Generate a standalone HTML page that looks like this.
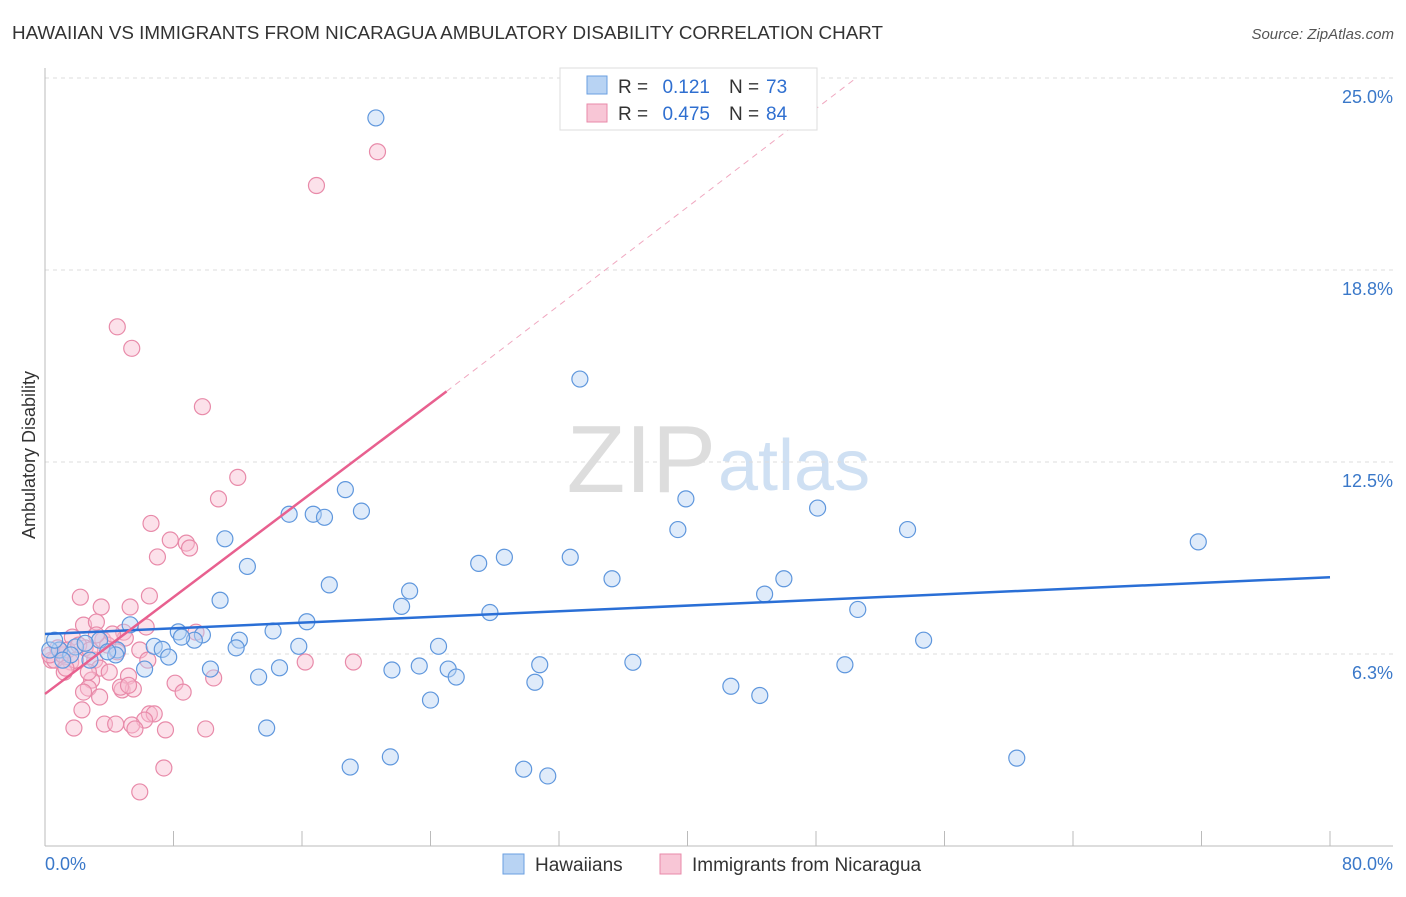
<!DOCTYPE html>
<html><head><meta charset="utf-8"><style>
body{margin:0;background:#fff;font-family:"Liberation Sans",sans-serif;}
svg text{font-family:"Liberation Sans",sans-serif;}
</style></head><body>
<svg width="1406" height="892" viewBox="0 0 1406 892">
<text x="12" y="39" font-size="18" fill="#333" textLength="871" lengthAdjust="spacingAndGlyphs">HAWAIIAN VS IMMIGRANTS FROM NICARAGUA AMBULATORY DISABILITY CORRELATION CHART</text>
<text x="1394" y="39" font-size="15" fill="#555" font-style="italic" text-anchor="end">Source: ZipAtlas.com</text>
<text x="716" y="492" font-size="96" fill="#ddd" text-anchor="end" font-family="Liberation Serif">ZIP</text>
<text x="718" y="490" font-size="72" fill="#cfe0f3">atlas</text>
<g id="grid"></g>
<g id="axes"></g>
<g id="marks"></g>
<text transform="translate(35,455) rotate(-90)" font-size="18" fill="#333" text-anchor="middle">Ambulatory Disability</text>
<text x="45" y="870" font-size="18" fill="#3a78c9">0.0%</text>
<text x="1393" y="870" font-size="18" fill="#3a78c9" text-anchor="end">80.0%</text>
<g>
<rect x="560" y="68" width="257" height="62" fill="#fff" stroke="#ddd"/>
<rect x="587" y="76" width="20" height="18" fill="#b8d3f3" stroke="#6a9fe0"/>
<rect x="587" y="104" width="20" height="18" fill="#f8c6d6" stroke="#e88aa9"/>
<text x="618" y="93" font-size="19" fill="#333">R =</text>
<text x="710" y="93" font-size="19" fill="#2f6fd0" text-anchor="end">0.121</text>
<text x="729" y="93" font-size="19" fill="#333">N =</text>
<text x="766" y="93" font-size="19" fill="#2f6fd0">73</text>
<text x="618" y="120" font-size="19" fill="#333">R =</text>
<text x="710" y="120" font-size="19" fill="#2f6fd0" text-anchor="end">0.475</text>
<text x="729" y="120" font-size="19" fill="#333">N =</text>
<text x="766" y="120" font-size="19" fill="#2f6fd0">84</text>
</g>
<g>
<rect x="503" y="854" width="21" height="20" fill="#b8d3f3" stroke="#6a9fe0"/>
<text x="535" y="871" font-size="19" fill="#333">Hawaiians</text>
<rect x="660" y="854" width="21" height="20" fill="#f8c6d6" stroke="#e88aa9"/>
<text x="692" y="871" font-size="19" fill="#333">Immigrants from Nicaragua</text>
</g>
</svg>
<script>
const yTicks=[6.25,12.5,18.75,25];
const yTickLabels=["6.3%","12.5%","18.8%","25.0%"];
const xTicks=[0,8,16,24,32,40,48,56,64,72,80];
const blueX=[20.6,33.3,39.9,48.1,53.7,39.4,71.8,18.7,19.7,15.2,16.7,17.4,11.2,12.6,28.6,27.0,32.7,35.3,46.0,17.7,22.7,10.9,22.2,27.7,50.6,44.8,16.3,14.2,5.3,8.3,9.8,12.1,9.3,8.5,15.8,24.5,6.8,7.3,11.9,7.7,54.7,36.6,30.8,49.8,23.3,25.1,21.6,14.6,10.3,6.2,13.3,25.6,30.5,42.7,44.5,24.0,13.8,21.5,19.0,29.8,31.3,60.5,4.5,3.4,1.9,0.9,0.3,4.4,3.9,2.8,1.6,0.6,1.1,2.5];
const blueY=[23.7,15.2,11.3,11.0,10.3,10.3,9.9,11.6,10.9,10.8,10.8,10.7,10.0,9.1,9.4,9.2,9.4,8.7,8.7,8.5,8.3,8.0,7.8,7.6,7.7,8.2,7.3,7.0,7.2,6.97,6.87,6.7,6.7,6.8,6.5,6.5,6.5,6.4,6.45,6.15,6.7,5.98,5.9,5.9,5.86,5.76,5.73,5.8,5.76,5.76,5.5,5.5,5.33,5.2,4.9,4.75,3.84,2.9,2.57,2.5,2.28,2.86,6.38,6.7,6.48,6.38,6.38,6.22,6.32,6.05,6.22,6.7,6.05,6.6];
const pinkX=[20.7,16.9,4.5,5.4,9.8,12.0,10.8,6.6,7.8,8.8,7.0,9.0,2.2,6.5,3.5,5.3,2.4,3.2,6.3,4.9,9.4,3.6,5.0,1.7,3.9,2.5,0.9,0.4,1.6,3.1,4.5,5.9,6.4,16.2,19.2,3.4,4.0,1.2,2.9,5.2,8.1,10.5,2.7,4.8,5.5,4.7,8.6,2.4,3.4,2.3,6.5,6.8,6.2,5.4,3.7,4.4,1.8,5.6,7.5,10.0,7.4,5.9,0.6,1.1,1.4,2.1,0.3,0.8,1.9,2.8,4.2,3.2,2.7,5.2,1.3];
const pinkY=[22.6,21.5,16.9,16.2,14.3,12.0,11.3,10.5,9.96,9.86,9.41,9.7,8.1,8.14,7.78,7.78,7.19,7.29,7.13,6.96,6.96,6.71,6.77,6.8,6.54,6.45,6.38,6.05,5.99,6.05,6.32,6.38,6.05,5.99,5.99,5.79,5.66,5.66,5.40,5.53,5.30,5.47,5.14,5.08,5.11,5.17,5.01,5.01,4.85,4.43,4.30,4.30,4.10,3.94,3.97,3.97,3.84,3.81,3.78,3.81,2.54,1.76,6.05,6.22,6.38,6.54,6.22,6.45,6.05,6.38,6.90,6.87,5.66,5.23,5.79];
const blueLine=[0,6.9,80,8.75];
const pinkLine=[0,4.95,25,14.8];
const pinkDash=[25,14.8,50.5,25];
const X=v=>45+v*1285/80, Y=v=>846-v*768/25;
const NS="http://www.w3.org/2000/svg";
function mk(t,a,p){const e=document.createElementNS(NS,t);for(const k in a)e.setAttribute(k,a[k]);p.appendChild(e);return e;}
const grid=document.getElementById('grid'),axes=document.getElementById('axes'),marks=document.getElementById('marks');
yTicks.forEach((v,i)=>{
 const l=mk('line',{x1:45,x2:1393,y1:Y(v),y2:Y(v),stroke:'#ddd','stroke-dasharray':'4,4'},grid);
 
 
 const t=mk('text',{x:1393,y:Y(v)+25,'font-size':18,fill:'#3a78c9','text-anchor':'end'},axes);
 t.textContent=yTickLabels[i];
 
 
});
const ax=mk('line',{x1:45,x2:1393,y1:846,y2:846,stroke:'#bbb'},axes);


const ay=mk('line',{x1:45,x2:45,y1:68,y2:846,stroke:'#bbb'},axes);


xTicks.forEach(v=>{
 const l=mk('line',{x1:X(v),x2:X(v),y1:831,y2:846,stroke:'#bbb'},axes);
 
 
});
function dots(xs,ys,fill,stroke,name){xs.forEach((x,i)=>{
 const c=mk('circle',{cx:X(x),cy:Y(ys[i]),r:8,fill:fill,'fill-opacity':0.45,stroke:stroke,'stroke-width':1.2},marks);
 
 
});}
dots(pinkX,pinkY,'#f8bcd0','#e88aa9','nicaragua-point');
dots(blueX,blueY,'#b8d3f3','#5f97dd','hawaiian-point');
const bl=mk('line',{x1:X(blueLine[0]),y1:Y(blueLine[1]),x2:X(blueLine[2]),y2:Y(blueLine[3]),stroke:'#2a6fd6','stroke-width':2.5},marks);


const pl=mk('line',{x1:X(pinkLine[0]),y1:Y(pinkLine[1]),x2:X(pinkLine[2]),y2:Y(pinkLine[3]),stroke:'#e8608f','stroke-width':2.5},marks);


const pd=mk('line',{x1:X(pinkDash[0]),y1:Y(pinkDash[1]),x2:X(pinkDash[2]),y2:Y(pinkDash[3]),stroke:'#f0a8c0','stroke-width':1,'stroke-dasharray':'6,5'},marks);


</script>
</body></html>
